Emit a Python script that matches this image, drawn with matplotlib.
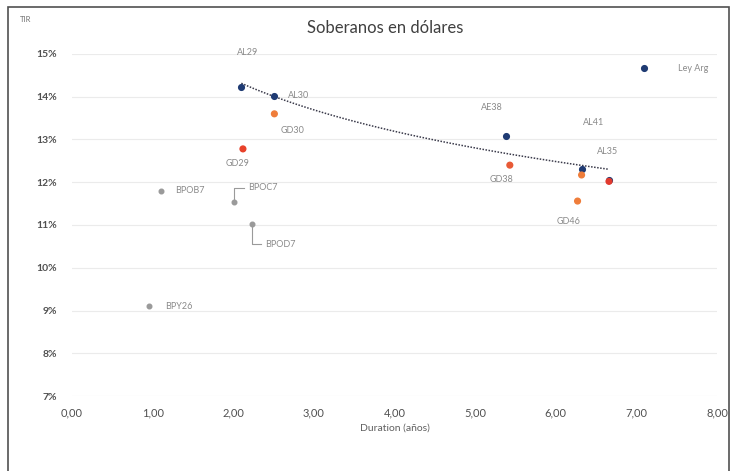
import numpy as np
import matplotlib
matplotlib.use("Agg")
from matplotlib import pyplot as plt
from matplotlib.patches import Rectangle
from matplotlib.ticker import FuncFormatter

plt.rcParams['font.family'] = ['Lato', 'DejaVu Sans']

# Ley Arg (blue)
arg_names = ["AL29", "AL30", "AE38", "AL41", "AL35"]
arg_dur = [2.10, 2.51, 5.38, 6.32, 6.66]
arg_tir = [14.23, 14.02, 13.08, 12.31, 12.05]

# Ley NY (orange / red)
ny_names = ["GD29", "GD30", "GD38", "GD41", "GD46", "GD35"]
ny_dur = [2.12, 2.51, 5.43, 6.32, 6.27, 6.66]
ny_tir = [12.78, 13.60, 12.40, 12.17, 11.56, 12.02]
ny_colors = ["#e8412a", "#ef7d3a", "#e85a36", "#ef7d3a", "#ef7d3a", "#e23a2e"]

# provinciales / otros (gray)
otros_names = ["BPOB7", "BPOC7", "BPOD7", "BPY26"]
otros_dur = [1.10, 2.01, 2.23, 0.96]
otros_tir = [11.80, 11.54, 11.02, 9.10]

# label offsets in pixels (dx, dy, ha)
lbl = {
    "AL29": (6, 34, "center"), "AL30": (14, 0, "left"), "AE38": (-14, 29, "center"),
    "AL41": (12, 46, "center"), "AL35": (-1, 29, "center"),
    "GD29": (-5, -15, "center"), "GD30": (18, -17, "center"), "GD38": (-8, -14, "center"),
    "GD46": (-9, -20, "center"),
    "BPOB7": (14, 0, "left"), "BPOC7": (14, 14, "left"), "BPOD7": (13, -20, "left"),
    "BPY26": (16, 0, "left"),
}

fig = plt.figure(figsize=(7.31, 4.71), dpi=100)
ax = fig.add_axes([0.0985, 0.1592, 0.8824, 0.7262])

# gridlines
ax.set_xlim(0, 8)
ax.set_ylim(7, 15)
ax.set_yticks(range(7, 16))
ax.set_xticks(range(0, 9))
ax.grid(axis='y', color='#ebebeb', lw=0.8)
ax.set_axisbelow(True)
for s in ax.spines.values():
    s.set_visible(False)
ax.tick_params(length=0, colors='#404040')
ax.yaxis.set_major_formatter(FuncFormatter(lambda v, p: "%d%%" % v))
ax.xaxis.set_major_formatter(FuncFormatter(lambda v, p: ("%.2f" % v).replace(".", ",")))
for t in ax.get_yticklabels():
    t.set_fontsize(7.5)
    t.set_fontweight('bold')
    t.set_color('#505050')
for t in ax.get_xticklabels():
    t.set_fontsize(8)
    t.set_color('#505050')
ax.tick_params(axis='y', pad=11)
ax.tick_params(axis='x', pad=8)
ax.set_xlabel("Duration (años)", fontsize=7.5, color='#606060', labelpad=4)

# trend (log fit on Ley Arg)
coef = np.polyfit(np.log(arg_dur), arg_tir, 1)
xs = np.linspace(min(arg_dur), max(arg_dur), 100)
ax.plot(xs, coef[0] * np.log(xs) + coef[1], ls=(0, (1, 1)), color='#3a3a4a', lw=1.1, zorder=2)

ax.scatter(otros_dur, otros_tir, s=11, color='#9a9a9a', zorder=3)
ax.scatter(arg_dur, arg_tir, s=17, color='#1f3b73', zorder=3, label="Ley Arg")
ax.scatter(ny_dur, ny_tir, s=17, color=ny_colors, zorder=4)

def put(names, xs_, ys_):
    for n, x, y in zip(names, xs_, ys_):
        if n not in lbl:
            continue
        dx, dy, ha = lbl[n]
        ax.annotate(n, (x, y), xytext=(dx, dy), textcoords='offset pixels',
                    ha=ha, va='center', fontsize=6.5, color='#8a8a8a', zorder=5)

put(arg_names, arg_dur, arg_tir)
put(ny_names, ny_dur, ny_tir)
put(otros_names, otros_dur, otros_tir)

# leader lines for BPOC7 and BPOD7
for n, x, y in zip(otros_names, otros_dur, otros_tir):
    if n in ("BPOC7", "BPOD7"):
        dx, dy, ha = lbl[n]
        p = ax.transData.transform((x, y))
        pts = [p, (p[0], p[1] + dy), (p[0] + dx - 4, p[1] + dy)]
        pts = ax.transData.inverted().transform(pts)
        ax.plot(pts[:, 0], pts[:, 1], color='#9a9a9a', lw=0.8, zorder=2)

leg = ax.legend(loc='upper right', bbox_to_anchor=(0.997, 0.99), frameon=False,
                fontsize=6.5, handletextpad=2.8, borderpad=0.2, markerscale=1.0)
for t in leg.get_texts():
    t.set_color('#8a8a8a')

fig.text(0.527, 1 - 28 / 471, "Soberanos en dólares", ha='center', va='center',
         fontsize=12, color='#404040')
fig.text(20 / 731, 1 - 20 / 471, "TIR", ha='left', va='center', fontsize=5.5, color='#707070')

fig.patches.append(Rectangle((8 / 731, -0.05), 721 / 731, 1.05 - 7 / 471, transform=fig.transFigure,
                             fill=False, edgecolor='#505050', lw=1.2))

plt.savefig("out.png", dpi=100)
